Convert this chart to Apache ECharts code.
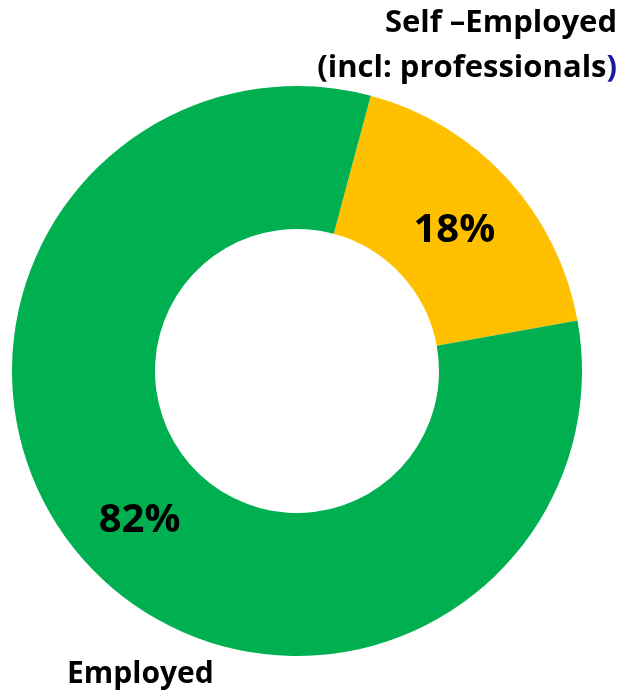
<!DOCTYPE html>
<html>
<head>
<meta charset="utf-8">
<script src="https://cdn.jsdelivr.net/npm/echarts@6/dist/echarts.min.js"></script>
<style>
  html, body { margin: 0; padding: 0; background: #fff; }
  #chart { width: 622px; height: 694px; }
</style>
</head>
<body>
<div id="chart"></div>
<script>
// Employment status split
const categories = ['Self –Employed', 'Employed'];
const subLabel = '(incl: professionals';
const shares = [18, 82];
const colors = ['#FFC000', '#00B050'];

const FONT = '"Open Sans", "Liberation Sans", sans-serif';

// small nudges for the in-ring percentage labels
const labelOffsets = [[-2, 6], [2, 3]];

const chart = echarts.init(document.getElementById('chart'), null, { renderer: 'canvas' });

chart.setOption({
  animation: false,
  backgroundColor: '#ffffff',
  series: [{
    type: 'pie',
    center: [297, 371],
    radius: [142, 285],
    startAngle: 75,
    clockwise: true,
    avoidLabelOverlap: false,
    emphasis: { disabled: true },
    itemStyle: { borderWidth: 0 },
    label: {
      show: true,
      position: 'inside',
      formatter: p => p.value + '%',
      fontFamily: FONT,
      fontWeight: 'bold',
      fontSize: 40,
      color: '#000'
    },
    labelLine: { show: false },
    data: categories.map((name, i) => ({
      name,
      value: shares[i],
      itemStyle: { color: colors[i] },
      label: { offset: labelOffsets[i] }
    }))
  }],
  graphic: [
    {
      type: 'text',
      right: 5,
      top: 8,
      style: {
        text: '{a|' + categories[0] + '}\n{a|' + subLabel + '}{b|)}',
        align: 'right',
        rich: {
          a: { fontFamily: FONT, fontWeight: 'bold', fontSize: 31, fill: '#000', lineHeight: 45, align: 'right' },
          b: { fontFamily: FONT, fontWeight: 'bold', fontSize: 31, fill: '#1A1AA0', lineHeight: 45 }
        }
      }
    },
    {
      type: 'text',
      left: 67,
      top: 659,
      style: {
        text: categories[1],
        fontFamily: FONT,
        fontWeight: 'bold',
        fontSize: 30,
        fill: '#000'
      }
    }
  ]
});
</script>
</body>
</html>
